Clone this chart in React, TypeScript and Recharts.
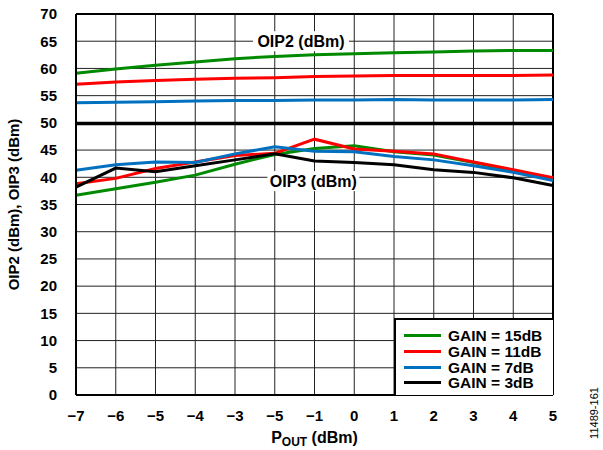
import React from "react";
import {
  LineChart,
  Line,
  XAxis,
  YAxis,
  CartesianGrid,
  ReferenceDot,
  ReferenceLine,
} from "recharts";

const FONT = "'Liberation Sans', Arial, sans-serif";

// P_OUT (dBm) steps, and the tick labels as printed (the sixth one reads −5 in the original)
const pout = [-7, -6, -5, -4, -3, -2, -1, 0, 1, 2, 3, 4, 5];
const xTickLabels = ["−7", "−6", "−5", "−4", "−3", "−5", "−1", "0", "1", "2", "3", "4", "5"];
const yTicks = [0, 5, 10, 15, 20, 25, 30, 35, 40, 45, 50, 55, 60, 65, 70];

// OIP2 (dBm)
const oip2Gain15 = [59.1, 59.9, 60.6, 61.2, 61.8, 62.2, 62.5, 62.7, 62.9, 63.0, 63.2, 63.3, 63.3];
const oip2Gain11 = [57.1, 57.5, 57.8, 58.0, 58.2, 58.3, 58.5, 58.6, 58.7, 58.7, 58.7, 58.7, 58.8];
const oip2Gain7 = [53.7, 53.8, 53.9, 54.0, 54.1, 54.1, 54.2, 54.2, 54.3, 54.2, 54.2, 54.2, 54.3];
const oip2Gain3 = [49.9, 49.9, 49.9, 49.9, 49.9, 49.9, 49.9, 49.9, 49.9, 49.9, 49.9, 49.9, 49.9];

// OIP3 (dBm)
const oip3Gain15 = [36.7, 37.9, 39.1, 40.4, 42.4, 44.2, 45.3, 45.8, 44.7, 44.1, 42.7, 41.2, 39.6];
const oip3Gain11 = [38.8, 39.8, 41.6, 42.8, 44.0, 44.4, 47.0, 45.2, 44.8, 44.3, 42.8, 41.4, 39.9];
const oip3Gain7 = [41.3, 42.3, 42.8, 42.7, 44.3, 45.6, 44.8, 44.7, 43.8, 43.2, 42.1, 40.9, 39.4];
const oip3Gain3 = [38.2, 41.7, 41.0, 42.1, 43.2, 44.3, 43.0, 42.7, 42.3, 41.4, 40.9, 39.9, 38.5];

const gains = [
  { label: "GAIN = 15dB", color: "#008a00", oip2: oip2Gain15, oip3: oip3Gain15 },
  { label: "GAIN = 11dB", color: "#ff0000", oip2: oip2Gain11, oip3: oip3Gain11 },
  { label: "GAIN = 7dB", color: "#0070c0", oip2: oip2Gain7, oip3: oip3Gain7 },
  { label: "GAIN = 3dB", color: "#000000", oip2: oip2Gain3, oip3: oip3Gain3 },
];

const rows = pout.map((x, i) => {
  const row: Record<string, number> = { x };
  gains.forEach((g, k) => {
    row[`oip2_${k}`] = g.oip2[i];
    row[`oip3_${k}`] = g.oip3[i];
  });
  return row;
});

function Tag({ cx, cy, text, w }: { cx?: number; cy?: number; text: string; w: number }) {
  if (cx == null || cy == null) return null;
  return (
    <g>
      <rect x={cx - w / 2} y={cy - 10} width={w} height={20} fill="#fff" />
      <text x={cx} y={cy + 6} textAnchor="middle" fontFamily={FONT} fontWeight="bold" fontSize={16} fill="#000">
        {text}
      </text>
    </g>
  );
}

function GainLegend() {
  return (
    <div
      style={{
        position: "absolute",
        left: 394,
        top: 318,
        width: 159,
        height: 77,
        border: "2px solid #000",
        borderRight: "none",
        borderBottom: "none",
        background: "#fff",
        padding: "8px 0 0 8px",
        boxSizing: "border-box",
      }}
    >
      {gains.map((g) => (
        <div key={g.label} style={{ display: "flex", alignItems: "center", height: 15.7 }}>
          <div style={{ width: 37, height: 3, background: g.color, marginRight: 7 }} />
          <span style={{ fontFamily: FONT, fontWeight: "bold", fontSize: 15.5, color: "#000", lineHeight: "15px" }}>
            {g.label}
          </span>
        </div>
      ))}
    </div>
  );
}

function PoutLabel({ viewBox }: any) {
  const cx = viewBox.x + viewBox.width / 2;
  return (
    <text x={cx} y={443} textAnchor="middle" fontFamily={FONT} fontWeight="bold" fontSize={16} fill="#000">
      P
      <tspan fontSize={12} dy={3}>OUT</tspan>
      <tspan dy={-3}> (dBm)</tspan>
    </text>
  );
}

export default function App() {
  return (
    <div style={{ position: "absolute", left: 0, top: 0, width: 603, height: 450, background: "#fff" }}>
      <LineChart width={603} height={450} data={rows} margin={{ top: 14, right: 50, left: 0, bottom: 25 }}>
        <CartesianGrid stroke="#222" strokeWidth={1} />
        <XAxis
          dataKey="x"
          type="number"
          domain={[-7, 5]}
          ticks={pout}
          tickFormatter={(v: number) => xTickLabels[pout.indexOf(v)]}
          interval={0}
          height={30}
          tickLine={false}
          axisLine={{ stroke: "#000", strokeWidth: 2 }}
          tickMargin={9}
          tick={{ fill: "#000", fontFamily: FONT, fontWeight: "bold", fontSize: 15 }}
          label={<PoutLabel />}
        />
        <YAxis
          type="number"
          domain={[0, 70]}
          ticks={yTicks}
          interval={0}
          width={76}
          tickLine={false}
          axisLine={{ stroke: "#000", strokeWidth: 2 }}
          tickMargin={13}
          tick={{ fill: "#000", fontFamily: FONT, fontWeight: "bold", fontSize: 15 }}
          label={{
            value: "OIP2 (dBm), OIP3 (dBm)",
            angle: -90,
            position: "insideLeft",
            offset: 14,
            style: { textAnchor: "middle", fontFamily: FONT, fontWeight: "bold", fontSize: 15, fill: "#000" },
          }}
        />
        <ReferenceLine y={70} stroke="#000" strokeWidth={2} />
        <ReferenceLine x={5} stroke="#000" strokeWidth={2} />
        {gains.map((g, k) => (
          <Line
            key={`oip2_${k}`}
            dataKey={`oip2_${k}`}
            stroke={g.color}
            strokeWidth={k === 3 ? 3.5 : 3}
            dot={false}
            isAnimationActive={false}
            legendType="none"
          />
        ))}
        {gains.map((g, k) => (
          <Line
            key={`oip3_${k}`}
            dataKey={`oip3_${k}`}
            stroke={g.color}
            strokeWidth={3}
            dot={false}
            isAnimationActive={false}
            legendType="none"
          />
        ))}
        <ReferenceDot x={-1.34} y={65} r={0} shape={(p: any) => <Tag cx={p.cx} cy={p.cy} text="OIP2 (dBm)" w={96} />} />
        <ReferenceDot x={-1.03} y={39.3} r={0} shape={(p: any) => <Tag cx={p.cx} cy={p.cy} text="OIP3 (dBm)" w={92} />} />
      </LineChart>
      <GainLegend />
      <div
        style={{
          position: "absolute",
          left: 594,
          top: 413,
          transform: "translate(-50%, -50%) rotate(-90deg)",
          fontFamily: FONT,
          fontSize: 11,
          color: "#000",
          whiteSpace: "nowrap",
        }}
      >
        11489-161
      </div>
    </div>
  );
}
